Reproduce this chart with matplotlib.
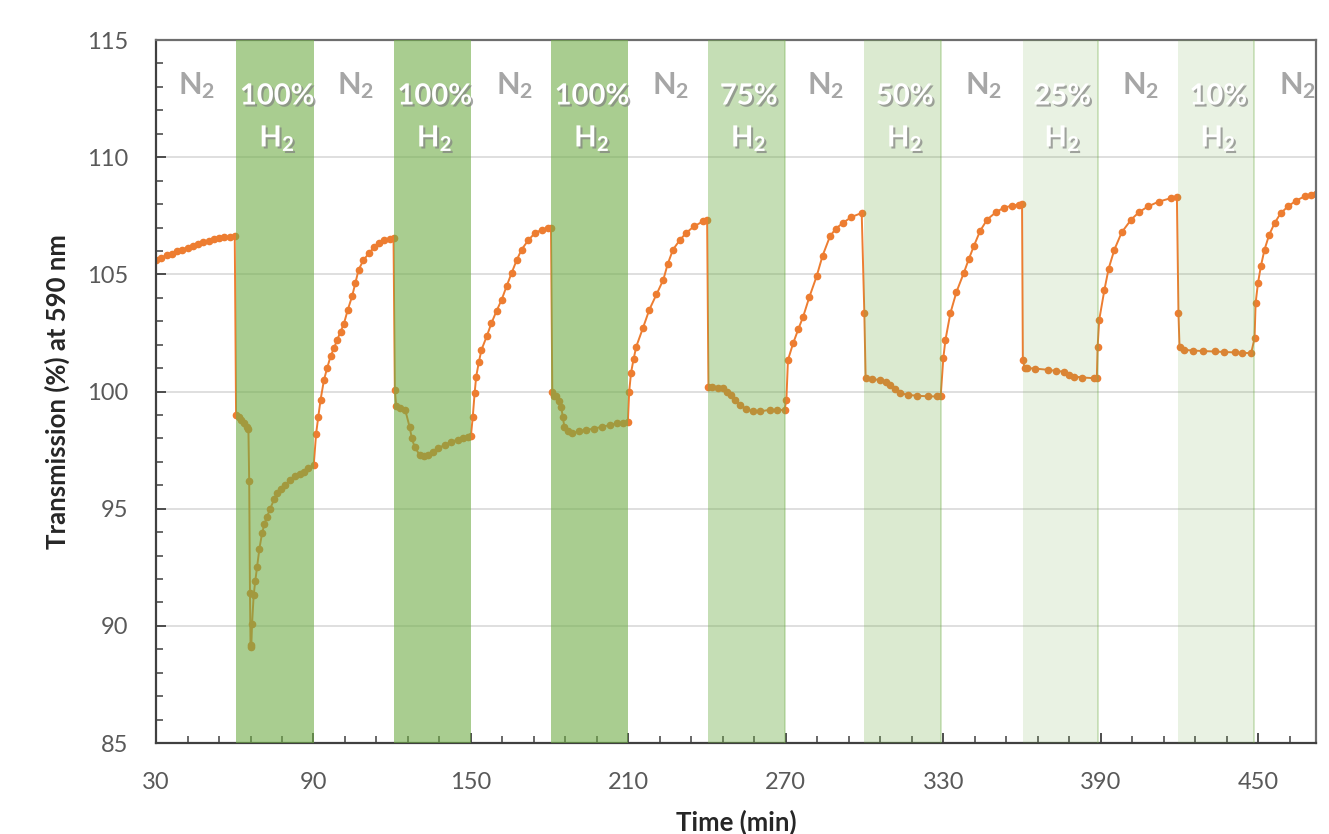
import matplotlib
matplotlib.use("Agg")
import matplotlib.pyplot as plt
import matplotlib.patheffects as pe
from matplotlib.ticker import FixedLocator, MultipleLocator

plt.rcParams["font.family"] = ["Lato", "DejaVu Sans"]
plt.rcParams["mathtext.fontset"] = "custom"
plt.rcParams["mathtext.bf"] = "Lato:bold"
plt.rcParams["mathtext.rm"] = "Lato"

# Time (min) and transmission (%) at 590 nm, gas-switching experiment
time_min = [
    30, 32, 34, 36, 38, 40, 42, 44, 46, 48, 50, 52, 54, 56, 58, 60,
    60.5, 61.5, 62.5, 63.5, 64.5, 65.2, 65.5, 65.8, 66.0, 66.3, 66.6, 67.2, 67.8,
    68.5, 69.4, 70.4, 71.3, 72.3, 73.5, 75, 76.1, 77.5, 79, 81.2, 83, 85, 86.3, 88, 90.1,
    91.0, 91.8, 92.7, 94, 95.2, 96.5, 97.8, 99, 100.3, 101.6, 103.1, 104.7, 106, 107.2,
    109, 111.1, 113, 114.9, 117, 119, 120.5,
    121.0, 121.5, 123, 125, 126.6, 127.5, 128.5, 130.4, 132, 133.6, 135.5, 137.4, 140,
    142.5, 145, 147, 148.9, 150,
    150.7, 151.4, 152, 153, 154, 156, 157.8, 159.8, 161.7, 163.6, 165.5, 167.4, 169.3,
    171.8, 174.4, 177, 179.5, 180.5,
    181.0, 181.5, 182.5, 183.5, 184.4, 185, 185.6, 186.8, 188.6, 191, 193.7, 197, 200,
    203, 205.6, 208, 209.8,
    210.3, 211, 212, 213, 215.5, 218, 220.7, 223.3, 225, 227, 229.5, 232, 235, 238.4, 240,
    240.5, 242, 244, 246, 247.6, 249.2, 250.8, 252.4, 255, 257.5, 260, 263.8, 266.5, 269.5,
    270.2, 270.8, 272.8, 274.7, 276.6, 279, 281.7, 284, 286.8, 289, 291.8, 295, 298.9,
    299.9, 300.4, 303, 306, 308, 309.8, 311.7, 313.6, 316.5, 320, 324, 327.6, 329,
    330, 330.8, 332.7, 335, 337.8, 339.7, 341.6, 344, 346.7, 350, 353, 356, 358.7, 360,
    360.3, 361, 362, 365, 369.7, 373, 376, 378, 379.9, 383, 387.5, 388.5,
    388.8, 389.4, 391.4, 393, 395.2, 398, 401.6, 404.5, 408, 412, 416.9, 419,
    419.6, 420, 421.9, 425, 429, 433.4, 437, 441, 444, 447.3,
    448.6, 449, 449.9, 451, 452.4, 454.2, 456.3, 458.5, 461.3, 464.5, 467.7, 470, 472,
]
transmission = [
    105.63, 105.72, 105.81, 105.89, 105.98, 106.06, 106.14, 106.22, 106.29, 106.37,
    106.43, 106.49, 106.54, 106.58, 106.61, 106.63,
    99.0, 98.9, 98.8, 98.65, 98.5, 98.4, 96.2, 91.4, 89.2, 89.1, 90.1, 91.3, 91.9,
    92.5, 93.3, 93.95, 94.35, 94.66, 95.0, 95.4, 95.66, 95.85, 96.0, 96.23, 96.38, 96.5,
    96.58, 96.72, 96.87,
    98.2, 98.9, 99.65, 100.5, 101.0, 101.5, 101.85, 102.2, 102.55, 102.9, 103.5, 104.06,
    104.65, 105.2, 105.6, 105.9, 106.15, 106.34, 106.45, 106.52, 106.56,
    100.07, 99.4, 99.3, 99.2, 98.5, 98.0, 97.65, 97.3, 97.25, 97.3, 97.42, 97.58, 97.72,
    97.86, 97.95, 98.03, 98.08, 98.12,
    98.93, 99.93, 100.64, 101.25, 101.78, 102.35, 102.92, 103.45, 103.92, 104.5, 105.06,
    105.6, 106.06, 106.45, 106.77, 106.9, 106.98, 107.0,
    100.0, 99.8, 99.79, 99.6, 99.36, 98.9, 98.5, 98.3, 98.22, 98.3, 98.36, 98.42, 98.5,
    98.57, 98.65, 98.66, 98.7,
    100.0, 100.8, 101.4, 101.92, 102.7, 103.5, 104.15, 104.77, 105.45, 106.06, 106.45,
    106.77, 107.05, 107.26, 107.3,
    100.2, 100.2, 100.17, 100.14, 100.0, 99.86, 99.65, 99.43, 99.25, 99.15, 99.15, 99.22,
    99.2, 99.22,
    99.65, 101.35, 102.07, 102.65, 103.2, 104.05, 104.91, 105.8, 106.62, 106.95, 107.2,
    107.45, 107.62,
    103.35, 100.57, 100.52, 100.5, 100.4, 100.29, 100.1, 99.93, 99.86, 99.82, 99.8, 99.79, 99.8,
    101.43, 102.2, 103.35, 104.25, 105.06, 105.65, 106.2, 106.85, 107.34, 107.65, 107.84,
    107.93, 107.98, 108.0,
    101.35, 101.0, 101.0, 100.98, 100.93, 100.88, 100.85, 100.72, 100.64, 100.6, 100.57, 100.58,
    101.92, 103.06, 104.35, 105.25, 106.06, 106.8, 107.34, 107.65, 107.9, 108.1, 108.26, 108.3,
    103.35, 101.92, 101.78, 101.75, 101.73, 101.71, 101.69, 101.67, 101.65, 101.64,
    102.28, 103.78, 104.63, 105.35, 106.06, 106.7, 107.2, 107.6, 107.9, 108.15, 108.33,
    108.4, 108.45,
]

# H2 exposure windows (min) and their concentrations
h2_start = [60.5, 120.8, 180.6, 240.5, 299.8, 360.2, 419.5]
h2_end = [90.2, 150.0, 210.0, 269.6, 329.2, 388.8, 448.4]
h2_labels = ["100%", "100%", "100%", "75%", "50%", "25%", "10%"]
h2_shade = [0.6, 0.6, 0.6, 0.4, 0.25, 0.15, 0.15]
n2_centers = [45.6, 105.9, 166.5, 226.0, 285.2, 345.4, 405.3, 464.8]

x_ticks = [30, 90, 150, 210, 270, 330, 390, 450]
x_minor = list(range(30, 473, 12))

orange = "#ED7D31"
green = "#70AD47"

fig = plt.figure(figsize=(13.29, 8.34), dpi=100)
ax = fig.add_axes([0.1174, 0.109, 0.8728, 0.843])

ax.plot(time_min, transmission, color=orange, lw=1.4, marker="o", ms=4.5,
        mec=orange, mfc=orange, zorder=2)

for s, e, a in zip(h2_start, h2_end, h2_shade):
    ax.axvspan(s, e, color=green, alpha=a, lw=0, zorder=3)
    if a < 0.5:
        ax.axvline(e, color=green, alpha=0.35, lw=1.2, zorder=3)

shadow = [pe.SimplePatchShadow(offset=(1.5, -1.5), shadow_rgbFace="#808080", alpha=0.7),
          pe.Normal()]
for s, e, lab in zip(h2_start, h2_end, h2_labels):
    xc = (s + e) / 2 + 0.8
    ax.text(xc, 112.25, lab, color="white", fontsize=21, fontweight="bold",
            ha="center", va="baseline", zorder=5, path_effects=shadow)
    ax.text(xc, 110.45, r"$\mathbf{H_2}$", color="white", fontsize=21,
            ha="center", va="baseline", zorder=5, path_effects=shadow)

for xc in n2_centers:
    ax.text(xc, 112.7, r"$\mathbf{N_2}$", color="#A6A6A6", fontsize=22,
            ha="center", va="baseline", zorder=5)

ax.set_xlim(30, 472)
ax.set_ylim(85, 115)
ax.xaxis.set_major_locator(FixedLocator(x_ticks))
ax.xaxis.set_minor_locator(FixedLocator(x_minor))
ax.yaxis.set_major_locator(MultipleLocator(5))
ax.yaxis.set_minor_locator(MultipleLocator(1))

ax.set_axisbelow(True)
ax.grid(axis="y", which="major", color="#D9D9D9", lw=1.2)
ax.grid(axis="x", which="both", visible=False)

for side in ["left", "bottom", "top", "right"]:
    ax.spines[side].set_color("#404040")
    ax.spines[side].set_linewidth(1.6)
ax.spines["top"].set_color("#6E6E6E")
ax.spines["right"].set_color("#6E6E6E")

ax.tick_params(axis="both", which="major", direction="in", length=7, width=1.3,
               color="#404040", labelsize=17, labelcolor="#595959",
               top=False, right=False)
ax.tick_params(axis="both", which="minor", direction="in", length=5, width=1.1,
               color="#404040", top=False, right=False)
ax.tick_params(axis="x", which="major", pad=21)
ax.tick_params(axis="y", which="major", pad=20)

ax.set_xlabel("Time (min)", fontsize=18.5, fontweight="bold", color="#262626", labelpad=12)
ax.set_ylabel("Transmission (%) at 590 nm", fontsize=18.5, fontweight="bold",
              color="#262626", labelpad=12)

fig.savefig("out.png", dpi=100)
